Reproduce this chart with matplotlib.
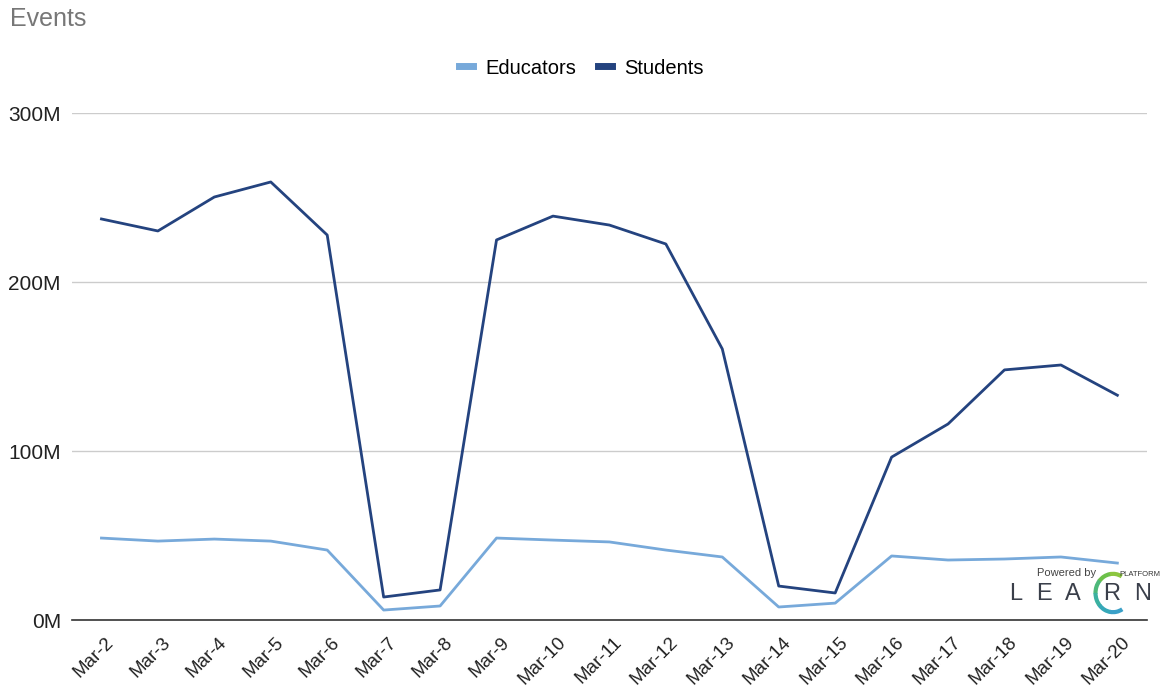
import matplotlib
matplotlib.use("Agg")
import matplotlib.pyplot as plt
from matplotlib.patches import Arc
import matplotlib.transforms as mtransforms
import numpy as np

plt.rcParams['font.family'] = ['Liberation Sans', 'DejaVu Sans']

dates = ["Mar-2", "Mar-3", "Mar-4", "Mar-5", "Mar-6", "Mar-7", "Mar-8", "Mar-9",
         "Mar-10", "Mar-11", "Mar-12", "Mar-13", "Mar-14", "Mar-15", "Mar-16",
         "Mar-17", "Mar-18", "Mar-19", "Mar-20"]
educators = [48.5, 46.7, 47.9, 46.7, 41.4, 5.9, 8.3, 48.5, 47.3, 46.2, 41.4,
             37.3, 7.7, 10.0, 37.9, 35.5, 36.1, 37.3, 33.7]
students = [237.3, 230.2, 250.3, 259.2, 227.8, 13.6, 17.8, 224.9, 239.0, 233.7,
            222.5, 160.4, 20.1, 16.0, 96.4, 116.0, 148.0, 150.9, 133.0]
yticks = [0, 100, 200, 300]
ytick_labels = ["0M", "100M", "200M", "300M"]

c_edu = "#77a9da"
c_stu = "#24437f"

fig = plt.figure(figsize=(11.63, 6.87), dpi=100)
ax = fig.add_axes([0.062, 0.0975, 0.924, 0.738])

x = np.arange(len(dates))
ax.plot(x, educators, color=c_edu, lw=2, label="Educators", solid_joinstyle="round")
ax.plot(x, students, color=c_stu, lw=2, label="Students", solid_joinstyle="round")

ax.set_xlim(-0.52, len(dates) - 0.48)
ax.set_ylim(0, 300)
ax.set_yticks(yticks)
ax.set_yticklabels(ytick_labels, fontsize=15, color="#222222")
ax.set_xticks(x)
ax.set_xticklabels(dates, rotation=45, ha="right", rotation_mode="anchor",
                   fontsize=13.5, color="#222222")
ax.tick_params(axis="both", length=0, pad=8)
ax.tick_params(axis="x", pad=10)
shift = mtransforms.ScaledTranslation(4 / 100, 0, fig.dpi_scale_trans)
for lab in ax.get_xticklabels():
    lab.set_transform(lab.get_transform() + shift)
ax.grid(axis="y", color="#cccccc", lw=1)
ax.set_axisbelow(True)
for s in ["top", "right", "left"]:
    ax.spines[s].set_visible(False)
ax.spines["bottom"].set_color("#333333")
ax.spines["bottom"].set_linewidth(1.2)

fig.text(10 / 1163, 1 - 19 / 687, "Events", fontsize=18, color="#777777",
         ha="left", va="center")

leg = fig.legend(loc="center", bbox_to_anchor=(0.5, 1 - 68 / 687), ncol=2,
                 frameon=False, fontsize=14.5, handlelength=0.7, handletextpad=0.6,
                 columnspacing=1.1)
for h in leg.get_lines():
    h.set_linewidth(5)

# logo in the lower right corner
fig.text(1067 / 1163, 1 - 573 / 687, "Powered by", fontsize=8, color="#444444",
         ha="center", va="center")
fig.text(1140 / 1163, 1 - 575 / 687, "PLATFORM", fontsize=5.5, color="#333333",
         ha="center", va="center")
for ch, px in zip(["L", "E", "A", "R", "N"], [1016, 1044, 1073, 1112, 1143]):
    fig.text(px / 1163, 1 - 594 / 687, ch, fontsize=17, color="#3a3f4a",
             ha="center", va="center")
lax = fig.add_axes([1092 / 1163, 1 - 616 / 687, 42 / 1163, 46 / 687])
lax.set_xlim(-1.2, 1.2)
lax.set_ylim(-1.2, 1.2)
lax.axis("off")
cols = ["#8cc63f", "#6cc04a", "#4db87a", "#3bb0a0", "#36a8b8", "#3aa0c8"]
for i, c in enumerate(cols):
    a0 = 60 + i * 40
    lax.add_patch(Arc((0, 0), 2, 2, theta1=a0, theta2=a0 + 42, color=c, lw=3))

fig.savefig("out.png", dpi=100, facecolor="white")
